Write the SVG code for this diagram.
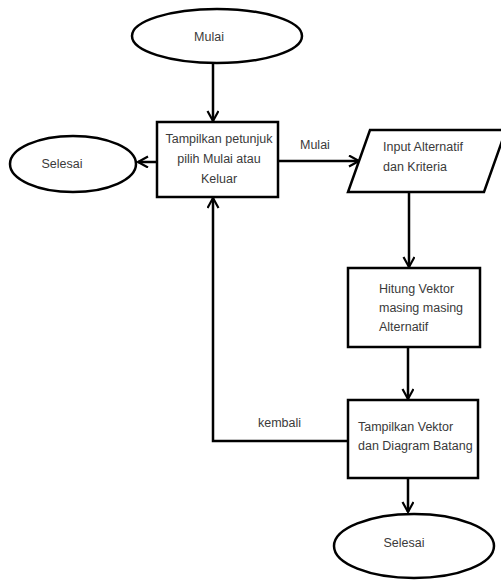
<svg xmlns="http://www.w3.org/2000/svg" width="501" height="581" viewBox="0 0 501 581">
<style>
.s{fill:#fff;stroke:#000;stroke-width:2.5}
.c{fill:none;stroke:#000;stroke-width:2.5}
text{font-family:"Liberation Sans",Arial,sans-serif;font-size:12.5px;fill:#3a3a3a}
.m{text-anchor:middle}
</style>
<defs>
<marker id="a" markerUnits="userSpaceOnUse" markerWidth="14" markerHeight="14" refX="11" refY="6" orient="auto">
<path d="M1,0.5 L11,6 L1,11.5" fill="none" stroke="#000" stroke-width="2.2"/>
</marker>
</defs>
<rect width="501" height="581" fill="#fff"/>
<g id="connectors">
<path class="c" d="M213,62 V121" marker-end="url(#a)"/>
<path class="c" d="M157,162 H138" marker-end="url(#a)"/>
<path class="c" d="M278,161 H359" marker-end="url(#a)"/>
<path class="c" d="M409,192 V267" marker-end="url(#a)"/>
<path class="c" d="M408,347 V399" marker-end="url(#a)"/>
<path class="c" d="M348,441 H213 V198" marker-end="url(#a)"/>
<path class="c" d="M408,478 V512" marker-end="url(#a)"/>
<text x="300" y="149">Mulai</text>
<text x="258" y="427">kembali</text>
</g>
<g id="mulai">
<ellipse class="s" cx="217" cy="36" rx="85" ry="27"/>
<text class="m" x="209" y="41">Mulai</text>
</g>
<g id="petunjuk">
<rect class="s" x="157" y="122" width="121" height="75"/>
<text class="m" x="219" y="143">Tampilkan petunjuk</text>
<text class="m" x="219" y="163">pilih Mulai atau</text>
<text class="m" x="219" y="183">Keluar</text>
</g>
<g id="selesai1">
<ellipse class="s" cx="73" cy="164" rx="63" ry="28"/>
<text class="m" x="62" y="168">Selesai</text>
</g>
<g id="input">
<polygon class="s" points="370,130 506,130 484,192 348,192"/>
<text x="383" y="151">Input Alternatif</text>
<text x="383" y="171">dan Kriteria</text>
</g>
<g id="hitung">
<rect class="s" x="348" y="268" width="132" height="79"/>
<text x="379" y="293">Hitung Vektor</text>
<text x="379" y="312">masing masing</text>
<text x="379" y="331">Alternatif</text>
</g>
<g id="tampilkan">
<rect class="s" x="348" y="400" width="130" height="78"/>
<text x="358" y="431">Tampilkan Vektor</text>
<text x="358" y="450">dan Diagram Batang</text>
</g>
<g id="selesai2">
<ellipse class="s" cx="414" cy="546" rx="80" ry="32"/>
<text class="m" x="404" y="547">Selesai</text>
</g>
</svg>
